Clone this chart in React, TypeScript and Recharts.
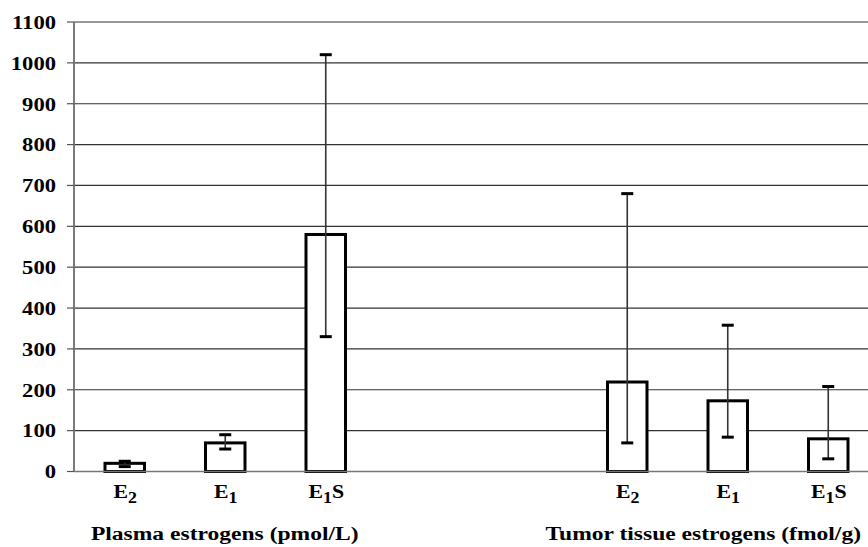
import React from 'react';
import { BarChart, Bar, XAxis, YAxis, CartesianGrid } from 'recharts';

// ---- data ----
const categories = ['E2', 'E1', 'E1S', 'gapA', 'gapB', 'E2', 'E1', 'E1S'];
const means: (number | null)[] = [20, 70, 580, null, null, 219, 173, 80];
const lows: (number | null)[] = [12, 55, 330, null, null, 70, 84, 31];
const highs: (number | null)[] = [25, 90, 1020, null, null, 680, 358, 208];
const groupLabels = ['', 'Plasma estrogens (pmol/L)', '', '', '', '', 'Tumor tissue estrogens (fmol/g)', ''];
const yTicks = [0, 100, 200, 300, 400, 500, 600, 700, 800, 900, 1000, 1100];

const data = categories.map((c, i) => ({
  key: `c${i}`,
  cat: c,
  mean: means[i],
  low: lows[i],
  high: highs[i],
  group: groupLabels[i],
}));

const FONT = "'Liberation Serif', 'Times New Roman', serif";
const STRETCH = 1.24;

const YTick = (props: any) => {
  const { x, y, payload } = props;
  return (
    <text
      transform={`translate(${x},${y + 6.8}) scale(1.16,1)`}
      textAnchor="end"
      fontFamily={FONT}
      fontWeight="bold"
      fontSize={19.5}
      fill="#000"
    >
      {payload.value}
    </text>
  );
};

const XTick = (props: any) => {
  const { x, y, index } = props;
  const d = data[index];
  if (!d) return null;
  const isLabel = d.cat.startsWith('E');
  const sub = isLabel ? d.cat.charAt(1) : '';
  const rest = isLabel ? d.cat.slice(2) : '';
  const groupDx = index === 6 ? -24 : 0;
  return (
    <g>
      {isLabel && (
        <text
          transform={`translate(${x + 1},${y + 26.5}) scale(1.12,1)`}
          textAnchor="middle"
          fontFamily={FONT}
          fontWeight="bold"
          fontSize={19.5}
          fill="#000"
        >
          E
          <tspan fontSize={16} dy={5}>{sub}</tspan>
          {rest && <tspan dy={-5}>{rest}</tspan>}
        </text>
      )}
      {d.group && (
        <text
          transform={`translate(${x + groupDx},${y + 68}) scale(${STRETCH},1)`}
          textAnchor="middle"
          fontFamily={FONT}
          fontWeight="bold"
          fontSize={19}
          fill="#000"
        >
          {d.group}
        </text>
      )}
    </g>
  );
};

const BarWithError = (props: any) => {
  const { x, y, width, height, payload } = props;
  if (!payload || payload.mean == null || !height) return null;
  const base = y + height;
  const k = height / payload.mean;
  const cx = x + width / 2;
  const yHigh = base - payload.high * k;
  const yLow = base - payload.low * k;
  const cap = 6;
  return (
    <g>
      <rect x={x} y={y} width={width} height={height} fill="#fff" stroke="#000" strokeWidth={3} />
      <line x1={cx} x2={cx} y1={yHigh} y2={yLow} stroke="#333" strokeWidth={1.6} />
      <line x1={cx - cap} x2={cx + cap} y1={yHigh} y2={yHigh} stroke="#000" strokeWidth={3} />
      <line x1={cx - cap} x2={cx + cap} y1={yLow} y2={yLow} stroke="#000" strokeWidth={3} />
    </g>
  );
};

export default function App() {
  return (
    <div style={{ position: 'absolute', left: 0, top: 0, width: 868, height: 547, overflow: 'hidden', background: '#fff' }}>
      <BarChart
        width={880}
        height={547}
        data={data}
        margin={{ top: 22, right: 2, bottom: 0, left: 0 }}
      >
        <CartesianGrid horizontal vertical={false} stroke="#333" strokeWidth={1.2} />
        <XAxis
          dataKey="key"
          height={75.5}
          tickLine={false}
          tickSize={0}
          tickMargin={0}
          axisLine={{ stroke: '#777', strokeWidth: 1.5 }}
          tick={<XTick />}
          interval={0}
        />
        <YAxis
          width={74}
          domain={[0, 1100]}
          ticks={yTicks}
          interval={0}
          tickSize={7}
          tickMargin={11}
          tickLine={{ stroke: '#555', strokeWidth: 1.2 }}
          axisLine={{ stroke: '#7a7a7a', strokeWidth: 2 }}
          tick={<YTick />}
        />
        <Bar dataKey="mean" barSize={39.5} isAnimationActive={false} shape={<BarWithError />} />
      </BarChart>
    </div>
  );
}
